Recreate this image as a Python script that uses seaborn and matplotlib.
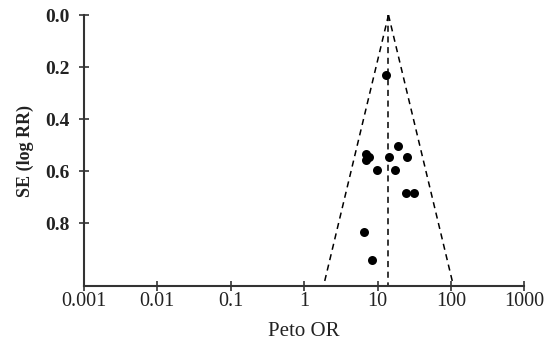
import numpy as np
import pandas as pd
import matplotlib
matplotlib.use("Agg")
import matplotlib.pyplot as plt
import seaborn as sns

# Study data (Peto OR, SE of log RR)
peto_or = [13.0, 19.1, 6.95, 7.7, 6.95, 14.3, 25.4, 9.7, 17.4, 24.4, 31.6, 6.6, 8.3]
se_log = [0.231, 0.503, 0.535, 0.545, 0.558, 0.545, 0.545, 0.593, 0.593, 0.683, 0.683, 0.833, 0.94]

pooled_or = 14.1
se_max = 1.04
x_ticks = [0.001, 0.01, 0.1, 1, 10, 100, 1000]
x_tick_labels = ["0.001", "0.01", "0.1", "1", "10", "100", "1000"]
y_ticks = [0.0, 0.2, 0.4, 0.6, 0.8]
y_tick_labels = ["0.0", "0.2", "0.4", "0.6", "0.8"]

sns.set_style("white")
plt.rcParams["font.family"] = ["Liberation Serif", "DejaVu Serif"]

df = pd.DataFrame({"or": peto_or, "se": se_log})

fig = plt.figure(figsize=(5.46, 3.45), dpi=100)
ax = fig.add_axes([0.1538, 0.171, 0.8065, 0.7855])

sns.scatterplot(data=df, x="or", y="se", ax=ax, color="black", s=42,
                edgecolor="black", linewidth=0, zorder=3, legend=False)

# Funnel lines
se_line = np.array([0.0, se_max])
dash = (0, (4, 3))
ax.plot([pooled_or, pooled_or], [0, se_max], color="black", lw=1.1, ls=dash)
ax.plot(pooled_or * np.exp(-1.96 * se_line), se_line, color="black", lw=1.1, ls=dash)
ax.plot(pooled_or * np.exp(1.96 * se_line), se_line, color="black", lw=1.1, ls=dash)

ax.set_xscale("log")
ax.set_xlim(0.001, 1000)
ax.set_ylim(se_max, 0)
ax.set_xticks(x_ticks)
ax.set_xticklabels(x_tick_labels, fontsize=14.5, color="#222222")
ax.set_yticks(y_ticks)
ax.set_yticklabels(y_tick_labels, fontsize=14, fontweight="bold", color="#222222")
ax.minorticks_off()
ax.tick_params(axis="both", direction="inout", length=7, width=1.2, color="#333333",
               bottom=True, left=True)
ax.tick_params(axis="x", pad=1)
ax.tick_params(axis="y", pad=7)

for s in ["top", "right"]:
    ax.spines[s].set_visible(False)
for s in ["left", "bottom"]:
    ax.spines[s].set_color("#333333")
    ax.spines[s].set_linewidth(1.5)

ax.set_xlabel("Peto OR", fontsize=15, labelpad=8, color="#222222")
ax.set_ylabel("SE (log RR)", fontsize=13, fontweight="bold", labelpad=8, color="#222222")

fig.savefig("out.png", dpi=100)
